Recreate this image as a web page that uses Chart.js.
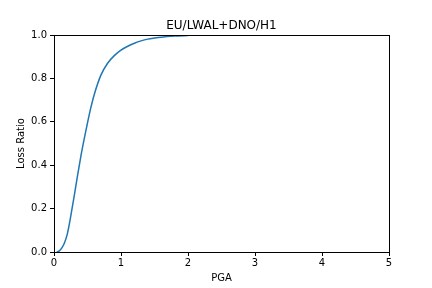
<!DOCTYPE html>
<html>
<head>
<meta charset="utf-8">
<script src="https://cdn.jsdelivr.net/npm/chart.js@4"></script>
<style>
html,body{margin:0;padding:0;background:#fff;}
#wrap{width:432px;height:288px;}
</style>
</head>
<body>
<div id="wrap"><canvas id="c" width="432" height="288"></canvas></div>
<script>
const chartTitle = "EU/LWAL+DNO/H1";
const xLabel = "PGA";
const yLabel = "Loss Ratio";
const pga = [0.04, 0.08, 0.12, 0.16, 0.2, 0.25, 0.3, 0.35, 0.4, 0.45, 0.5, 0.55, 0.6, 0.7, 0.8, 0.9, 1.0, 1.1, 1.2, 1.3, 1.4, 1.5, 1.6, 1.8, 2.0];
const lossRatio = [0.0, 0.005, 0.02, 0.045, 0.085, 0.165, 0.255, 0.35, 0.44, 0.52, 0.595, 0.665, 0.725, 0.815, 0.87, 0.905, 0.93, 0.948, 0.962, 0.973, 0.981, 0.986, 0.99, 0.995, 0.998];
const xTicks = [0, 1, 2, 3, 4, 5];
const yTicks = [0, 0.2, 0.4, 0.6, 0.8, 1.0];

const FONT = "'DejaVu Sans', sans-serif";

const framePlugin = {
  id: 'frame',
  afterDraw(chart) {
    const {ctx, chartArea: a} = chart;
    ctx.save();
    ctx.strokeStyle = '#000';
    ctx.lineWidth = 1;
    ctx.strokeRect(Math.round(a.left) + 0.5, Math.round(a.top) + 0.5, Math.round(a.right - a.left), Math.round(a.bottom - a.top));
    ctx.fillStyle = '#000';
    ctx.font = "12px " + FONT;
    ctx.textAlign = 'center';
    ctx.textBaseline = 'alphabetic';
    ctx.fillText(chartTitle, (a.left + a.right) / 2, a.top - 6);
    ctx.restore();
  }
};

new Chart(document.getElementById('c'), {
  type: 'line',
  data: {
    datasets: [{
      data: pga.map((x, i) => ({x: x, y: lossRatio[i]})),
      borderColor: '#1f77b4',
      borderWidth: 1.5,
      pointRadius: 0,
      fill: false,
      cubicInterpolationMode: 'monotone'
    }]
  },
  options: {
    responsive: false,
    animation: false,
    devicePixelRatio: 1,
    layout: {padding: {left: 0, right: 43, top: 35, bottom: 0}},
    plugins: {legend: {display: false}, tooltip: {enabled: false}, title: {display: false}},
    scales: {
      x: {
        type: 'linear', min: 0, max: 5,
        afterFit(s) { s.height = 36; },
        afterBuildTicks(s) { s.ticks = xTicks.map(v => ({value: v})); },
        grid: {drawOnChartArea: false, drawTicks: true, tickLength: 4, tickColor: '#000'},
        border: {display: true, color: '#000'},
        ticks: {color: '#000', font: {family: FONT, size: 10}, padding: 1, maxRotation: 0, callback: v => String(v)},
        title: {display: true, text: xLabel, color: '#000', font: {family: FONT, size: 10}, padding: {top: 2, bottom: 4}}
      },
      y: {
        type: 'linear', min: 0, max: 1,
        afterFit(s) { s.width = 54; },
        afterBuildTicks(s) { s.ticks = yTicks.map(v => ({value: v})); },
        grid: {drawOnChartArea: false, drawTicks: true, tickLength: 4, tickColor: '#000'},
        border: {display: true, color: '#000'},
        ticks: {color: '#000', font: {family: FONT, size: 10}, padding: 3, callback: v => v.toFixed(1)},
        title: {display: true, text: yLabel, color: '#000', font: {family: FONT, size: 10}, padding: {top: 15, bottom: 0}}
      }
    }
  },
  plugins: [framePlugin]
});
</script>
</body>
</html>
